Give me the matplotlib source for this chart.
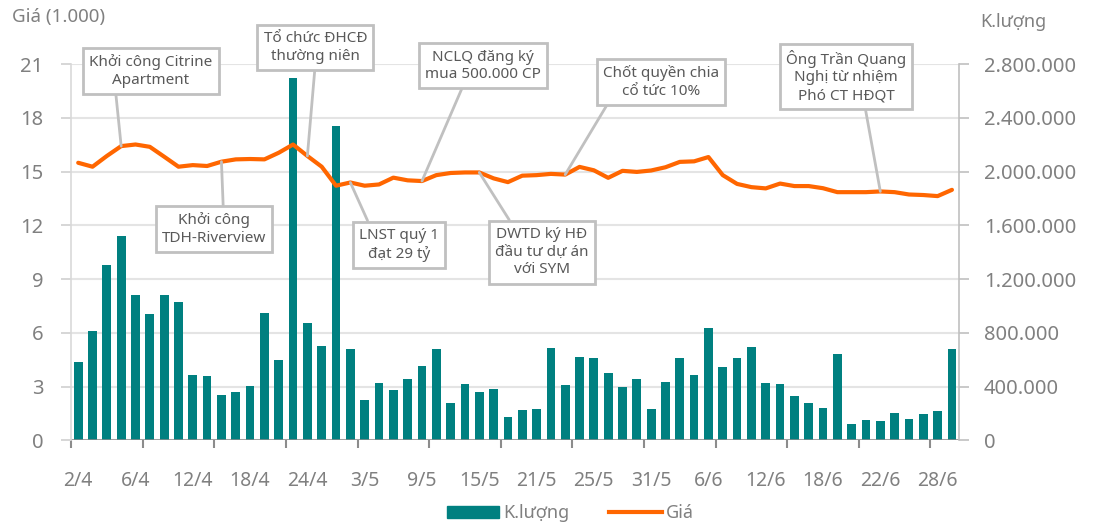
import matplotlib.pyplot as plt
from matplotlib.lines import Line2D
from matplotlib.patches import Patch
from matplotlib.ticker import FuncFormatter, MultipleLocator, FixedLocator
import numpy as np

# trading days 2/4 -> 29/6
dates = ["2/4", "3/4", "4/4", "5/4", "6/4", "9/4", "10/4", "11/4", "12/4", "13/4",
         "16/4", "17/4", "18/4", "19/4", "20/4", "23/4", "24/4", "26/4", "27/4",
         "2/5", "3/5", "4/5", "7/5", "8/5", "9/5", "10/5", "11/5", "14/5", "15/5",
         "16/5", "17/5", "18/5", "21/5", "22/5", "23/5", "24/5", "25/5", "28/5",
         "29/5", "30/5", "31/5", "1/6", "4/6", "5/6", "6/6", "7/6", "8/6", "11/6",
         "12/6", "13/6", "14/6", "15/6", "18/6", "19/6", "20/6", "21/6", "22/6",
         "25/6", "26/6", "27/6", "28/6", "29/6"]

price = [15.49, 15.27, 15.87, 16.42, 16.51, 16.38, 15.83, 15.27, 15.36, 15.31,
         15.55, 15.68, 15.70, 15.68, 16.05, 16.51, 15.87, 15.27, 14.21, 14.39,
         14.21, 14.28, 14.66, 14.51, 14.47, 14.80, 14.92, 14.95, 14.95, 14.62,
         14.41, 14.77, 14.80, 14.87, 14.83, 15.26, 15.07, 14.65, 15.04, 14.98,
         15.06, 15.24, 15.54, 15.57, 15.81, 14.80, 14.31, 14.13, 14.06, 14.33,
         14.19, 14.19, 14.07, 13.85, 13.85, 13.85, 13.89, 13.85, 13.72, 13.69,
         13.63, 13.98]

volume = [585000, 813000, 1307000, 1520000, 1083000, 941000, 1083000, 1031000, 487000, 479000,
          337000, 360000, 405000, 947000, 599000, 2693000, 873000, 703000, 2341000, 680000,
          300000, 427000, 375000, 457000, 553000, 680000, 277000, 420000, 360000, 383000,
          173000, 225000, 233000, 688000, 412000, 621000, 614000, 502000, 398000, 457000,
          234000, 435000, 614000, 487000, 837000, 547000, 614000, 696000, 427000, 420000,
          330000, 278000, 241000, 643000, 122000, 152000, 144000, 204000, 159000, 196000,
          219000, 681000]

# (text, bar index on the price line, box centre in axes fraction, leader attach point on box)
notes = [
    ("Khởi công Citrine\nApartment", 3, (0.090, 0.981), (0.21, 0.0)),
    ("Khởi công\nTDH-Riverview", 10, (0.161, 0.562), (0.59, 1.0)),
    ("Tổ chức ĐHCĐ\nthường niên", 16, (0.275, 1.043), (0.50, 0.0)),
    ("NCLQ đăng ký\nmua 500.000 CP", 24, (0.464, 0.995), (0.34, 0.0)),
    ("LNST quý 1\nđạt 29 tỷ", 19, (0.369, 0.520), (0.15, 1.0)),
    ("DWTD ký HĐ\nđầu tư dự án\nvới SYM", 28, (0.530, 0.500), (0.20, 1.0)),
    ("Chốt quyền chia\ncổ tức 10%", 34, (0.664, 0.953), (0.07, 0.0)),
    ("Ông Trần Quang\nNghị từ nhiệm\nPhó CT HĐQT", 56, (0.873, 0.967), (0.65, 0.0)),
]

TEAL = "#008080"
ORANGE = "#FF6600"
GRAY_TXT = "#808080"
NOTE_TXT = "#595959"
BOX_EC = "#C0C0C0"

plt.rcParams["font.family"] = ["Noto Sans", "DejaVu Sans"]

fig = plt.figure(figsize=(10.93, 5.25), dpi=100)
ax_vol = fig.add_axes([0.065, 0.1613, 0.8125, 0.7167])
ax = ax_vol.twinx()
ax.set_zorder(ax_vol.get_zorder() + 1)
ax.patch.set_visible(False)

x = np.arange(len(dates))

# volume bars (right axis)
ax_vol.bar(x, volume, width=0.61, color=TEAL, zorder=2)
ax_vol.set_ylim(0, 2800000)
ax_vol.yaxis.set_major_locator(MultipleLocator(400000))
ax_vol.yaxis.set_major_formatter(FuncFormatter(lambda v, p: f"{int(v):,}".replace(",", ".")))
ax_vol.yaxis.tick_right()
ax_vol.grid(axis="y", color="#E4E4E4", lw=1.5, zorder=0)
ax_vol.set_axisbelow(True)

# price line (left axis)
ax.plot(x, price, color=ORANGE, lw=3, solid_joinstyle="round", solid_capstyle="round", zorder=3)
ax.set_ylim(0, 21)
ax.yaxis.set_major_locator(MultipleLocator(3))
ax.yaxis.tick_left()

ax_vol.set_xlim(-0.5, len(dates) - 0.5)

# x labels every 4 sessions, tick marks every 5
ax_vol.xaxis.set_major_locator(FixedLocator(x[::4]))
ax_vol.xaxis.set_major_formatter(FuncFormatter(lambda v, p: dates[int(round(v))]))
ax_vol.xaxis.set_minor_locator(FixedLocator(np.arange(-0.5, len(dates), 5)))
ax_vol.tick_params(axis="x", which="major", length=0, pad=22, labelsize=14, labelcolor=GRAY_TXT)
ax_vol.tick_params(axis="x", which="minor", length=6, width=1.5, color="#8C8C8C")

ax.tick_params(axis="y", length=7, width=1.2, color="#D0D0D0", pad=13, labelsize=14.5, labelcolor=GRAY_TXT)
ax_vol.tick_params(axis="y", length=7, width=1.2, color="#C0C0C0", pad=11, labelsize=14.5, labelcolor=GRAY_TXT)

for a in (ax, ax_vol):
    a.spines["top"].set_visible(False)
    a.spines["bottom"].set_visible(False)
ax_vol.spines["left"].set_visible(False)
ax_vol.spines["right"].set_visible(False)
ax.spines["left"].set_color("#D9D9D9")
ax.spines["left"].set_linewidth(1.2)
ax.spines["right"].set_color("#C0C0C0")
ax.spines["right"].set_linewidth(1.2)
ax_vol.axhline(0, color="#8C8C8C", lw=1.8, zorder=4)

# axis titles
fig.text(0.011, 0.967, "Giá (1.000)", fontsize=13.5, color=GRAY_TXT, ha="left", va="center")
fig.text(0.897, 0.958, "K.lượng", fontsize=13, color=GRAY_TXT, ha="left", va="center")

# event call-outs
for text, idx, pos, rel in notes:
    ax.annotate(text, xy=(x[idx], price[idx]), xycoords="data",
                xytext=pos, textcoords="axes fraction",
                ha="center", va="center", multialignment="center",
                fontsize=11, color=NOTE_TXT, linespacing=1.25,
                bbox=dict(boxstyle="square,pad=0.4", fc="white", ec=BOX_EC, lw=2),
                arrowprops=dict(arrowstyle="-", color=BOX_EC, lw=2, relpos=rel,
                                shrinkA=0, shrinkB=0),
                annotation_clip=False, zorder=5)

handles = [Patch(color=TEAL, label="K.lượng"),
           Line2D([], [], color=ORANGE, lw=3, label="Giá")]
fig.legend(handles=handles, loc="center", bbox_to_anchor=(0.522, 0.022), ncol=2,
           frameon=False, fontsize=13, labelcolor=GRAY_TXT, handlelength=2.9,
           handleheight=0.65, handletextpad=0.25, columnspacing=2.2)

fig.savefig("out.png", dpi=100)
